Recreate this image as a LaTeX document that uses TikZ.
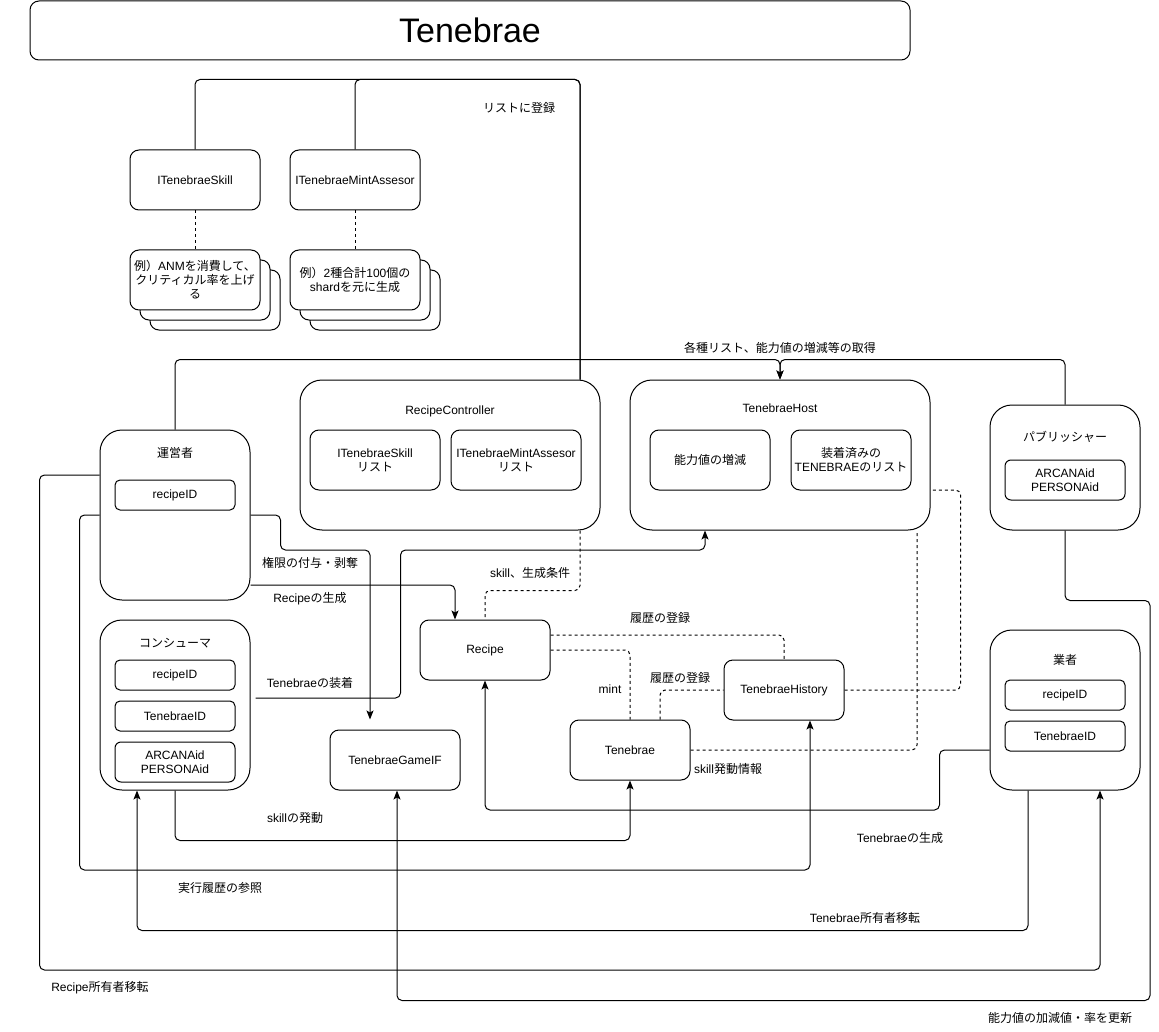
\documentclass[tikz,border=0pt]{standalone}
\usepackage{fontspec}
\setmainfont{Liberation Sans}
\newfontfamily\jp{Noto Sans CJK JP}
\usetikzlibrary{arrows.meta,positioning}

\begin{document}
\begin{tikzpicture}[x=1pt, y=-1pt,
    every node/.style={font=\fontsize{12}{14}\selectfont},
    box/.style={draw, line width=1pt, fill=white, rounded corners=9pt, align=center, minimum width=130pt, minimum height=60pt, inner sep=1pt},
    group/.style={draw, line width=1pt, fill=white, rounded corners=22pt, minimum width=150pt, minimum height=170pt},
    panel/.style={draw, line width=1pt, fill=white, rounded corners=22pt, minimum width=300pt, minimum height=150pt},
    field/.style={draw, line width=1pt, fill=white, rounded corners=5pt, align=center, minimum width=120pt, minimum height=30pt, inner sep=1pt},
    lbl/.style={align=center, inner sep=1pt},
    flow/.style={-{Stealth[length=9pt,width=7pt,inset=2pt]}, line width=1pt, rounded corners=5pt},
    link/.style={line width=1pt, rounded corners=5pt},
    feedback/.style={line width=1pt, rounded corners=5pt, dash pattern=on 3pt off 3pt}
]
\useasboundingbox (0,0) rectangle (1159,1032);

% title
\node[draw, line width=1pt, rounded corners=9pt, minimum width=880pt, minimum height=59pt, font=\fontsize{34}{40}\selectfont] (title) at (470,30.5) {Tenebrae};

% interfaces and examples
\node[box] (skillif) at (195,180) {ITenebraeSkill};
\node[box] (mintif) at (355,180) {ITenebraeMintAssesor};
\node[box] (skillex3) at (215,300) {};
\node[box] (skillex2) at (205,290) {};
\node[box] (skillex) at (195,280) {{\jp 例）}ANM{\jp を消費して、}\\{\jp クリティカル率を上げ}\\{\jp る}};
\node[box] (mintex3) at (375,300) {};
\node[box] (mintex2) at (365,290) {};
\node[box] (mintex) at (355,280) {{\jp 例）}2{\jp 種合計}100{\jp 個の}\\shard{\jp を元に生成}};
\draw[feedback] (skillif.south) -- (skillex.north);
\draw[feedback] (mintif.south) -- (mintex.north);

% controllers
\node[panel] (rc) at (450,455) {};
\node[lbl] (rctitle) at (450,411) {RecipeController};
\node[field, minimum height=60pt, rounded corners=9pt, minimum width=130pt] (rcskill) at (375,460) {ITenebraeSkill\\{\jp リスト}};
\node[field, minimum height=60pt, rounded corners=9pt, minimum width=130pt, right=10pt of rcskill] (rcmint) {ITenebraeMintAssesor\\{\jp リスト}};

\node[panel] (host) at (780,455) {};
\node[lbl] (hosttitle) at (780,408) {TenebraeHost};
\node[field, minimum height=60pt, rounded corners=9pt] (hostpower) at (710,460) {{\jp 能力値の増減}};
\node[field, minimum height=60pt, rounded corners=9pt, right=20pt of hostpower] (hostlist) {{\jp 装着済みの}\\TENEBRAE{\jp のリスト}};

% actors
\node[group, minimum height=125pt] (pub) at (1065,467.5) {};
\node[lbl] (pubtitle) at (1065,437) {\jp パブリッシャー};
\node[field, minimum height=40pt, rounded corners=6pt] (pubid) at (1065,480) {ARCANAid\\PERSONAid};

\node[group] (opr) at (175,515) {};
\node[lbl] (oprtitle) at (175,453) {\jp 運営者};
\node[field] (oprrecipe) at (175,495) {recipeID};

\node[group] (consumer) at (175,705) {};
\node[lbl] (contitle) at (175,643) {\jp コンシューマ};
\node[field] (conrecipe) at (175,675) {recipeID};
\node[field, below=10pt of conrecipe] (contoken) {TenebraeID};
\node[field, minimum height=40pt, rounded corners=6pt, below=10pt of contoken] (conid) {ARCANAid\\PERSONAid};

\node[group, minimum height=160pt] (vendor) at (1065,710) {};
\node[lbl] (vendortitle) at (1065,660) {\jp 業者};
\node[field] (vendorrecipe) at (1065,695) {recipeID};
\node[field, below=10pt of vendorrecipe] (vendortoken) {TenebraeID};

% contracts
\node[box] (recipe) at (485,650) {Recipe};
\node[box] (gameif) at (395,760) {TenebraeGameIF};
\node[box, minimum width=120pt] (tenebrae) at (630,750) {Tenebrae};
\node[box, minimum width=120pt] (hist) at (784,690) {TenebraeHistory};

% solid connectors
\draw[link] (skillif.north) -- ++(0,-70) -| ([xshift=130pt]rc.north);
\draw[link] (mintif.north) -- ++(0,-70) -| ([xshift=130pt]rc.north);
\draw[flow] (opr.north) |- ([yshift=20pt]host.north) -- (host.north);
\draw[flow] (pub.north) |- ([yshift=20pt]host.north) -- (host.north);
\draw[flow] ([yshift=-70pt]opr.east) -| ([xshift=-30pt]recipe.north);
\draw[flow, shorten >=10pt] (opr.east) -- ++(30,0) -- ++(0,35) -| ([xshift=-25pt]gameif.north);
\draw[flow] (opr.west) -- ++(-20,0) -- ++(0,355) -| ([xshift=26pt]hist.south);
\draw[flow] ([yshift=40pt]opr.west) -- ++(-60,0) -- ++(0,495) -| ([xshift=35pt]vendor.south);
\draw[flow] ([xshift=-37pt]vendor.south) -- ++(0,140) -| ([xshift=-38pt]consumer.south);
\draw[flow] ([yshift=-40pt]vendor.west) -- ++(-50,0) -- ++(0,60) -| (recipe.south);
\draw[flow] (consumer.south) -- ++(0,50) -| (tenebrae.south);
\draw[flow] ([shift={(5pt,7pt)}]consumer.east) -- ++(145,0) -- ++(0,-148) -| ([xshift=-75pt]host.south);
\draw[flow] (pub.south) -- ++(0,70) -- ++(85,0) -- ++(0,400) -| ([xshift=2pt]gameif.south);

% dashed connectors
\draw[feedback] ([xshift=130pt]rc.south) -- ++(0,60) -| (recipe.north);
\draw[feedback] ([yshift=15pt]recipe.east) -| (hist.north);
\draw[feedback] (recipe.east) -| (tenebrae.north);
\draw[feedback] ([xshift=30pt]tenebrae.north) |- (hist.west);
\draw[feedback] (tenebrae.east) -| ([xshift=137pt]host.south);
\draw[feedback] (hist.east) -- ++(116,0) |- ([yshift=-35pt]host.east);

% labels
\node[lbl] (lblreg) at (519,108) {\jp リストに登録};
\node[lbl] (lblget) at (780,348) {\jp 各種リスト、能力値の増減等の取得};
\node[lbl] (lblauth) at (310,563) {\jp 権限の付与・剥奪};
\node[lbl] (lblmake) at (310,599) {Recipe{\jp の生成}};
\node[lbl] (lblcond) at (530,573) {skill{\jp 、生成条件}};
\node[lbl] (lblhist) at (660,618) {\jp 履歴の登録};
\node[lbl] (lblequip) at (310,683) {Tenebrae{\jp の装着}};
\node[lbl] (lblmint) at (610,689) {mint};
\node[lbl] (lblhist2) at (680,678) {\jp 履歴の登録};
\node[lbl] (lblinfo) at (728,769) {skill{\jp 発動情報}};
\node[lbl] (lblfire) at (295,818) {skill{\jp の発動}};
\node[lbl] (lblgen) at (900,838) {Tenebrae{\jp の生成}};
\node[lbl] (lblref) at (220,888) {\jp 実行履歴の参照};
\node[lbl] (lbltokmove) at (865,918) {Tenebrae{\jp 所有者移転}};
\node[lbl] (lblrecmove) at (100,988) {Recipe{\jp 所有者移転}};
\node[lbl] (lblupdate) at (1060,1018) {\jp 能力値の加減値・率を更新};
\end{tikzpicture}
\end{document}
